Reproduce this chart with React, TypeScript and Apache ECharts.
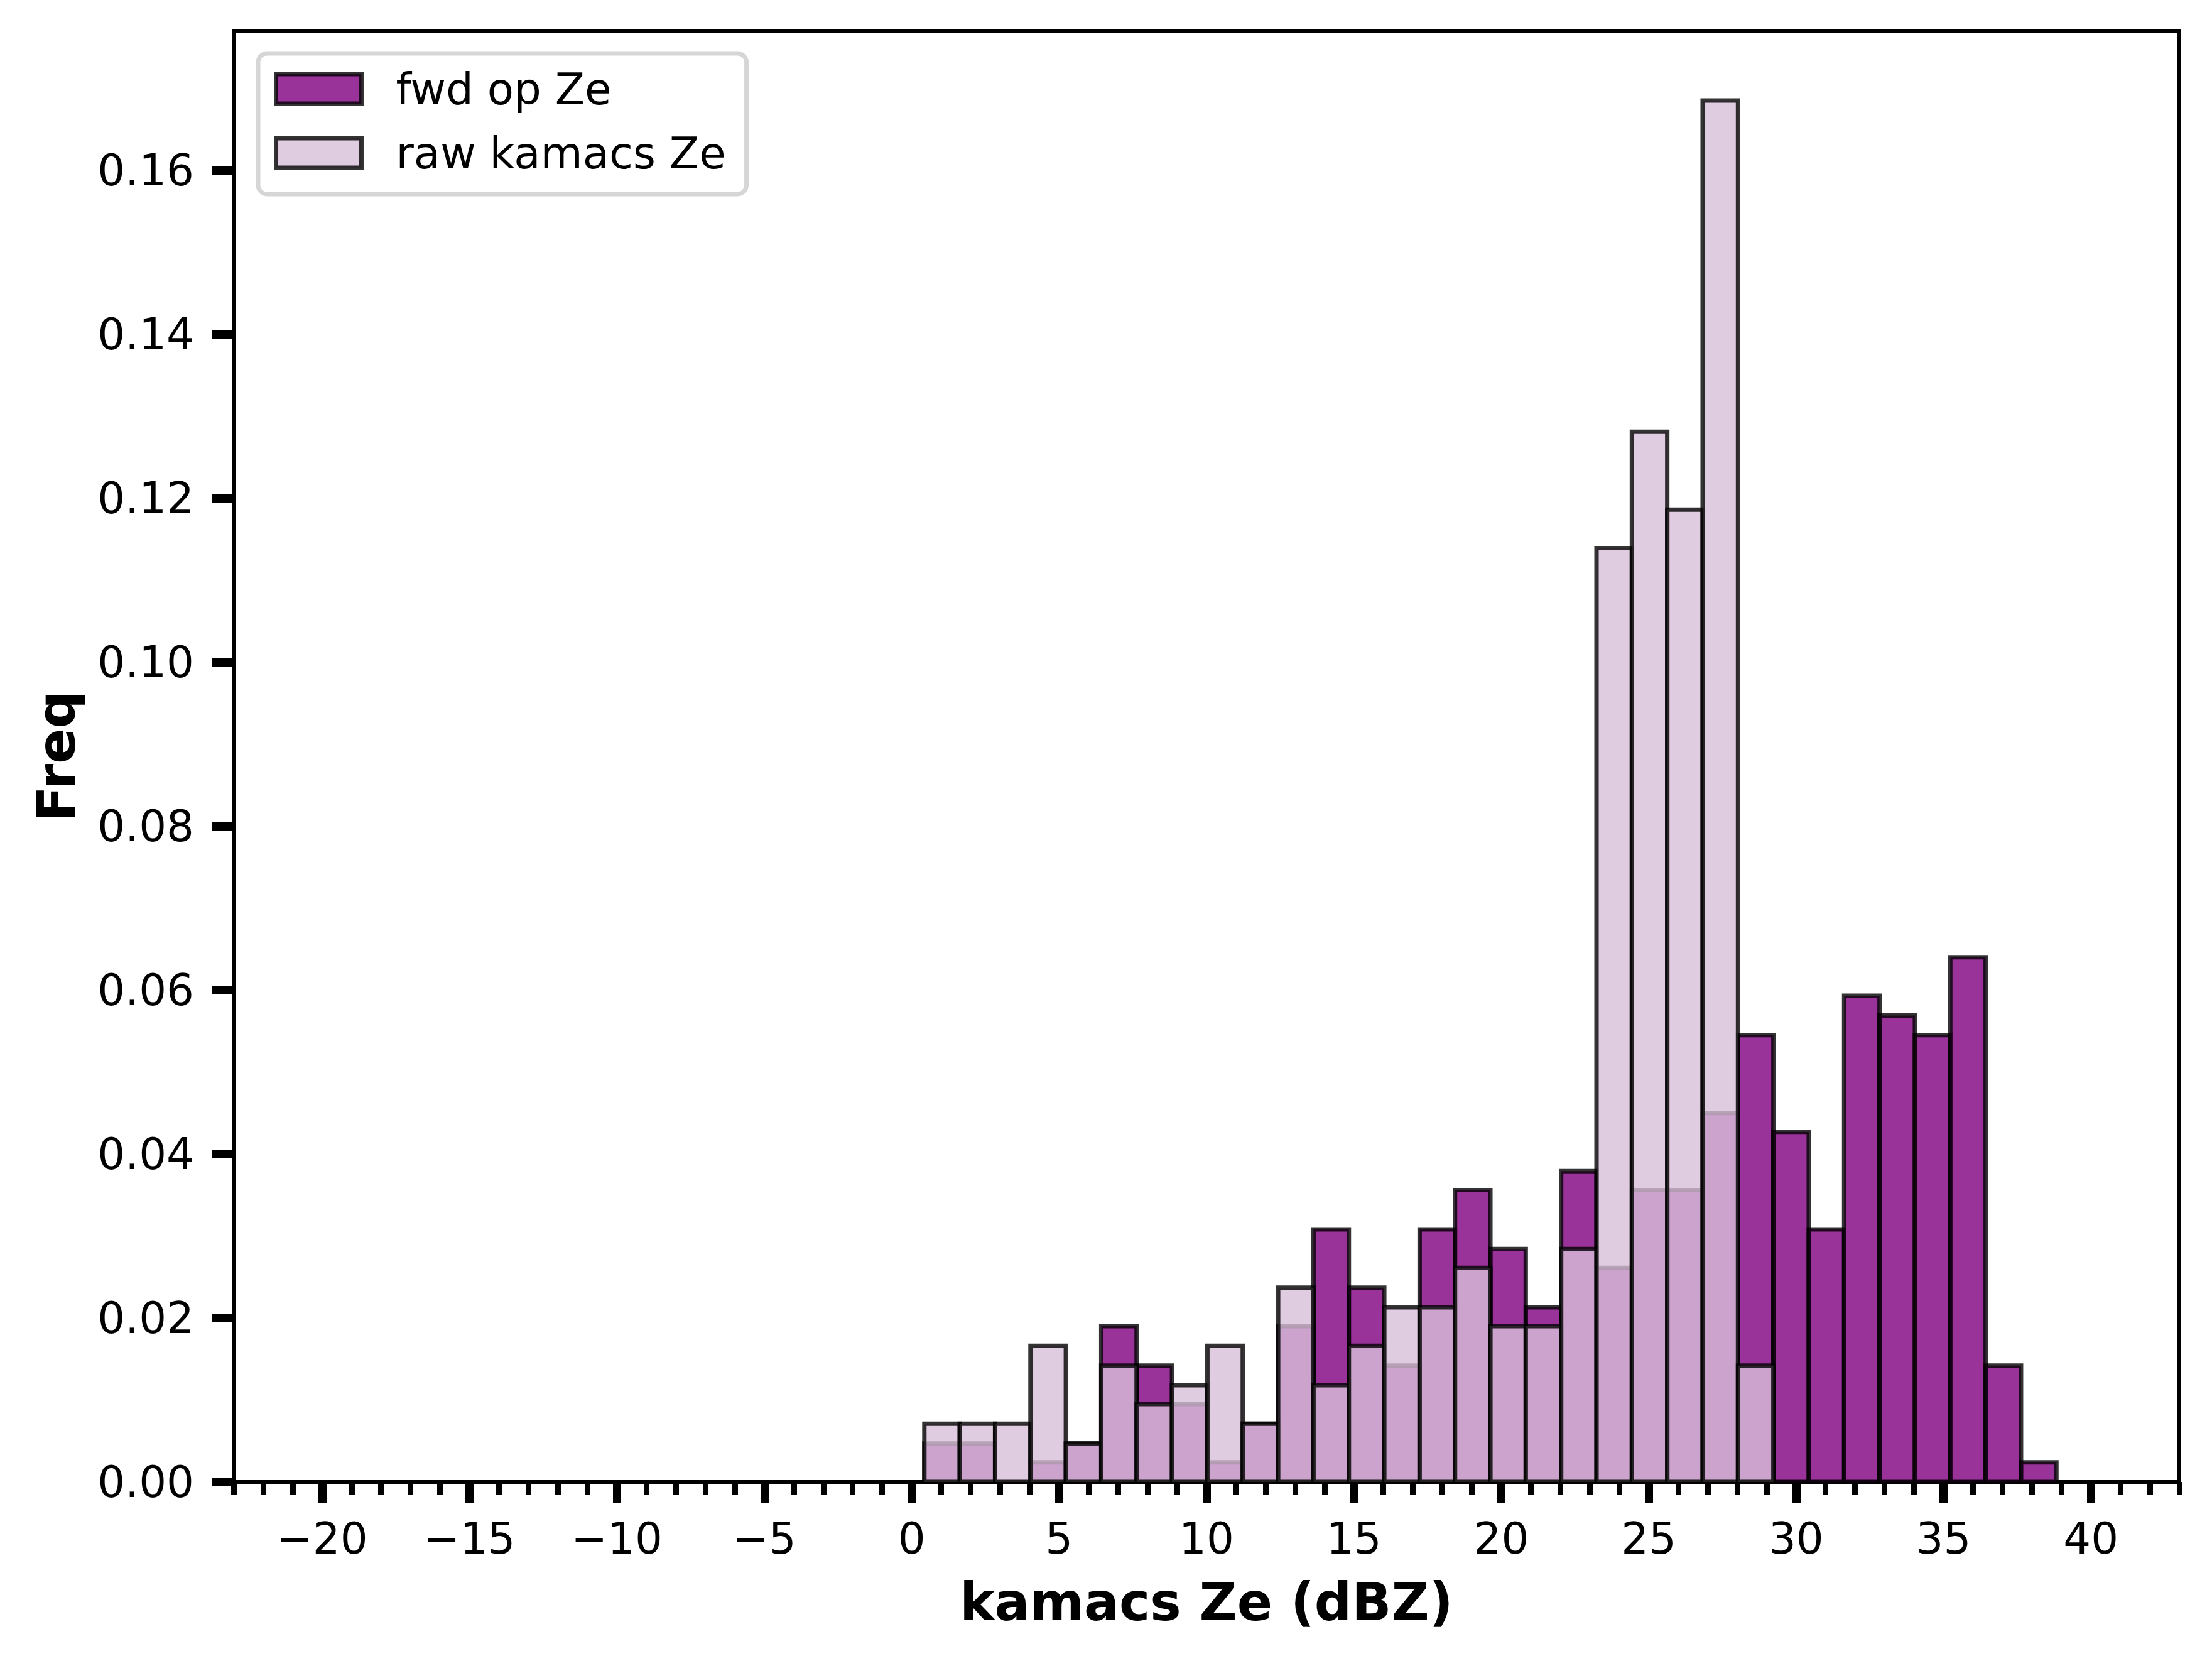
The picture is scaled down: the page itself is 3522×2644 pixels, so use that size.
import React, { useEffect, useRef } from 'react';
import * as echarts from 'echarts';

// histogram bin edges (dBZ), 32 bins
const binEdges = [
  0.43, 1.63, 2.83, 4.03, 5.23, 6.43, 7.63, 8.83, 10.03, 11.23, 12.43,
  13.63, 14.83, 16.03, 17.23, 18.43, 19.63, 20.83, 22.03, 23.23, 24.43,
  25.63, 26.83, 28.03, 29.23, 30.43, 31.63, 32.83, 34.03, 35.23, 36.43,
  37.63, 38.83,
];

const fwdOpZe = [
  0.0047, 0.0047, 0, 0.0024, 0.0047, 0.019, 0.0142, 0.0095, 0.0024, 0.0071,
  0.019, 0.0308, 0.0237, 0.0142, 0.0308, 0.0356, 0.0284, 0.0213, 0.0379,
  0.0261, 0.0356, 0.0356, 0.045, 0.0545, 0.0427, 0.0308, 0.0593, 0.0569,
  0.0545, 0.064, 0.0142, 0.0024,
];

const rawKamacsZe = [
  0.0071, 0.0071, 0.0071, 0.0166, 0.0047, 0.0142, 0.0095, 0.0118, 0.0166,
  0.0071, 0.0237, 0.0118, 0.0166, 0.0213, 0.0213, 0.0261, 0.019, 0.019,
  0.0284, 0.1139, 0.1281, 0.1186, 0.1685, 0.0142, 0, 0, 0, 0, 0, 0, 0, 0,
];

const xTicks = [-20, -15, -10, -5, 0, 5, 10, 15, 20, 25, 30, 35, 40];
const xMinorTicks = Array.from({ length: 67 }, (_, i) => i - 23);
const yTicks = [0, 0.02, 0.04, 0.06, 0.08, 0.1, 0.12, 0.14, 0.16];

const FONT = 'DejaVu Sans';
const EDGE = 'rgba(0,0,0,0.8)';
const FWD_FILL = 'rgba(128,0,128,0.8)';
const RAW_FILL = 'rgba(216,191,216,0.8)';

function histData(values: number[]) {
  return values.map((v, i) => [binEdges[i], binEdges[i + 1], v]);
}

function barRenderer(fill: string) {
  return (params: any, api: any) => {
    const h = api.value(2);
    if (!h) return null;
    const p0 = api.coord([api.value(0), h]);
    const p1 = api.coord([api.value(1), 0]);
    return {
      type: 'rect',
      shape: { x: p0[0], y: p0[1], width: p1[0] - p0[0], height: p1[1] - p0[1] },
      style: { fill, stroke: EDGE, lineWidth: 7 },
    };
  };
}

export default function App() {
  const ref = useRef<HTMLDivElement>(null);
  useEffect(() => {
    if (!ref.current) return;
    const chart = echarts.init(ref.current, null, { renderer: 'svg' });
    chart.setOption({
      animation: false,
      backgroundColor: '#fff',
      grid: {
        left: 372, top: 49, right: 52, bottom: 285,
        show: true, borderColor: '#000', borderWidth: 6,
      },
      legend: {
        left: 411, top: 85, orient: 'vertical',
        icon: 'rect', itemWidth: 136, itemHeight: 47, itemGap: 33,
        padding: [22, 33, 31, 25],
        backgroundColor: 'rgba(255,255,255,0.8)',
        borderColor: '#d6d6d6', borderWidth: 7, borderRadius: 14,
        textStyle: {
          fontFamily: FONT, fontSize: 69, color: '#000',
          padding: [0, 0, 0, 50],
        },
        data: [
          { name: 'fwd op Ze', itemStyle: { color: FWD_FILL, borderColor: EDGE, borderWidth: 7 } },
          { name: 'raw kamacs Ze', itemStyle: { color: RAW_FILL, borderColor: EDGE, borderWidth: 7 } },
        ],
      },
      xAxis: [
        {
          type: 'value', min: -23, max: 43,
          name: 'kamacs Ze (dBZ)', nameLocation: 'middle', nameGap: 150,
          nameTextStyle: { fontFamily: FONT, fontSize: 83, fontWeight: 'bold', color: '#000' },
          axisLine: { show: true, onZero: false, lineStyle: { color: '#000', width: 6 } },
          axisTick: { show: true, customValues: xTicks, length: 34, lineStyle: { color: '#000', width: 13 } },
          axisLabel: {
            customValues: xTicks, margin: 55,
            fontFamily: FONT, fontSize: 69, color: '#000',
            formatter: (v: number) => String(v).replace('-', '\u2212'),
          },
          splitLine: { show: false },
        },
        {
          type: 'value', min: -23, max: 43, position: 'bottom',
          axisLine: { show: false, onZero: false },
          axisTick: { show: true, customValues: xMinorTicks, length: 21, lineStyle: { color: '#000', width: 9 } },
          axisLabel: { show: false },
          splitLine: { show: false },
        },
      ],
      yAxis: {
        type: 'value', min: 0, max: 0.177,
        name: 'Freq', nameLocation: 'middle', nameGap: 240,
        nameTextStyle: { fontFamily: FONT, fontSize: 83, fontWeight: 'bold', color: '#000' },
        axisLine: { show: true, onZero: false, lineStyle: { color: '#000', width: 6 } },
        axisTick: { show: true, customValues: yTicks, length: 34, lineStyle: { color: '#000', width: 13 } },
        axisLabel: {
          customValues: yTicks, margin: 63,
          fontFamily: FONT, fontSize: 69, color: '#000',
          formatter: (v: number) => v.toFixed(2),
        },
        splitLine: { show: false },
      },
      series: [
        {
          name: 'fwd op Ze', type: 'custom',
          itemStyle: { color: FWD_FILL },
          encode: { x: [0, 1], y: 2 },
          renderItem: barRenderer(FWD_FILL),
          data: histData(fwdOpZe),
        },
        {
          name: 'raw kamacs Ze', type: 'custom',
          itemStyle: { color: RAW_FILL },
          encode: { x: [0, 1], y: 2 },
          renderItem: barRenderer(RAW_FILL),
          data: histData(rawKamacsZe),
        },
      ],
    });
    return () => { chart.dispose(); };
  }, []);
  return (
    <div
      ref={ref}
      style={{ position: 'fixed', left: 0, top: 0, width: 3522, height: 2644 }}
    />
  );
}
